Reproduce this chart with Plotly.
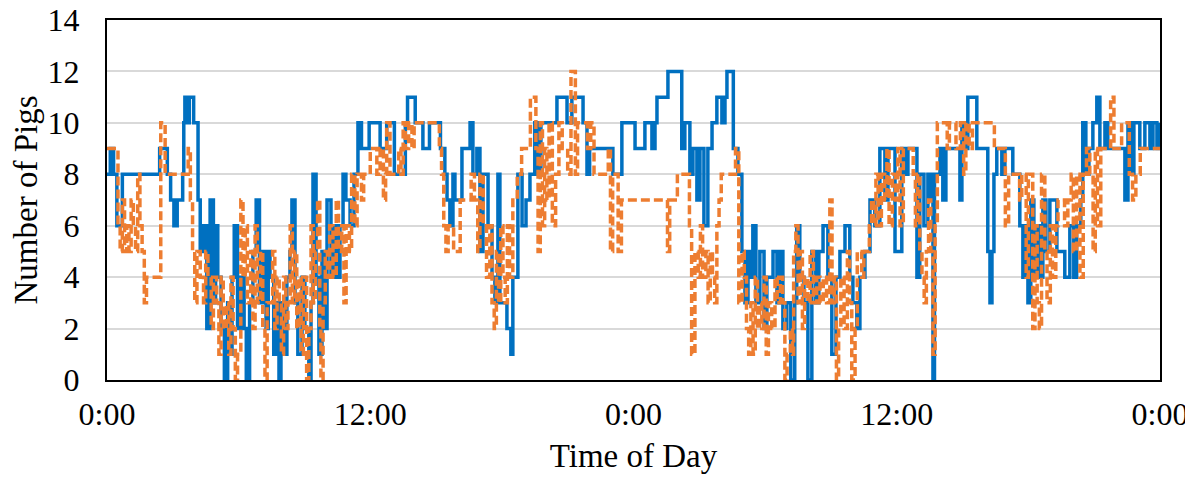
import plotly.graph_objects as go

# Time of day in hours since the first midnight, and number of pigs (step series)
blue_hours = [0.00, 0.15, 0.30, 0.45, 0.70, 2.40, 2.75, 2.90, 3.05, 3.20, 3.45, 3.50, 3.55, 3.68, 3.75, 3.95,
              4.15, 4.25, 4.40, 4.55, 4.70, 4.85, 4.95, 5.05, 5.20, 5.35, 5.50, 5.60, 5.70, 5.80, 5.95,
              6.10, 6.25, 6.35, 6.50, 6.65, 6.80, 6.95, 7.10, 7.25, 7.35, 7.43, 7.60, 7.75, 7.84, 7.93,
              8.07, 8.20, 8.34, 8.43, 8.57, 8.70, 8.89, 9.02, 9.20, 9.30, 9.39, 9.53, 9.66, 9.80, 9.94,
              10.03, 10.21, 10.35, 10.48, 10.62, 10.76, 10.89, 11.08, 11.26, 11.44, 11.60, 11.95, 12.45,
              12.75, 13.10, 13.60, 13.70, 14.05, 14.40, 14.70, 15.20, 15.40, 15.50, 15.63, 15.77, 15.86,
              16.18, 16.55, 16.68, 16.86, 17.00, 17.14, 17.37, 17.55, 17.68, 17.82, 17.91, 18.23, 18.41,
              18.50, 18.73, 18.92, 19.10, 19.28, 19.50, 19.65, 19.78, 20.51, 20.97, 21.19, 21.70, 21.88,
              22.00, 23.06, 23.47, 24.07, 24.52, 24.84, 24.98, 25.07, 25.57, 26.20, 26.34, 26.57, 26.71,
              26.89, 27.03, 27.21, 27.39, 27.58, 27.80, 28.03, 28.17, 28.26, 28.55, 28.76, 28.94, 29.08,
              29.22, 29.35, 29.44, 29.58, 29.76, 29.95, 30.08, 30.36, 30.54, 30.67, 30.81, 30.99, 31.17,
              31.35, 31.44, 31.58, 31.77, 31.95, 32.13, 32.31, 32.45, 32.64, 32.86, 33.04, 33.23, 33.41,
              33.64, 33.86, 34.00, 34.18, 34.32, 34.55, 34.78, 35.00, 35.23, 35.46, 35.60, 35.92, 36.23,
              36.37, 36.51, 36.92, 37.05, 37.24, 37.42, 37.56, 37.65, 37.72, 37.97, 38.10, 38.24, 38.88,
              38.97, 39.10, 39.24, 39.65, 40.15, 40.25, 40.34, 40.43, 40.56, 40.79, 40.93, 41.29, 41.61,
              41.75, 41.89, 41.98, 42.11, 42.25, 42.39, 42.52, 42.66, 42.80, 42.98, 43.30, 43.66, 43.89,
              44.07, 44.20, 44.39, 44.48, 44.62, 44.76, 44.94, 45.12, 45.26, 45.49, 45.62, 46.40, 46.54,
              46.67, 46.81, 47.08, 47.31, 47.54, 47.68, 47.86, 48.00]
blue_pigs = [8, 9, 8, 6, 8, 9, 8, 7, 6, 7, 8, 10, 11, 10, 11, 10,
             7, 5, 6, 2, 7, 3, 6, 4, 2, 0, 3, 1, 4, 6, 2,
             4, 2, 0, 3, 5, 7, 3, 5, 2, 5, 4, 1, 3, 0, 3,
             1, 4, 5, 7, 3, 1, 4, 2, 0, 3, 8, 4, 1, 5, 2,
             7, 4, 6, 4, 6, 8, 7, 6, 8, 10, 9, 10, 9,
             10, 8, 10, 11, 10, 9, 10, 9, 8, 7, 6, 8, 7,
             9, 10, 8, 9, 5, 8, 6, 4, 3, 8, 3, 2, 1,
             4, 8, 6, 7, 8, 10, 8, 10, 11, 10, 11, 10, 8,
             9, 8, 10, 9, 10, 9, 10, 11, 12, 9, 10, 8, 9,
             7, 9, 6, 9, 10, 11, 10, 11, 12, 9, 8, 5, 3,
             5, 4, 6, 3, 5, 2, 4, 5, 3, 5, 2, 3, 0,
             3, 6, 4, 3, 0, 5, 3, 5, 6, 4, 1, 4, 5,
             6, 4, 3, 2, 4, 5, 7, 6, 9, 7, 9, 5, 9,
             8, 9, 4, 8, 6, 8, 7, 0, 8, 9, 7, 9, 7,
             10, 9, 11, 9, 5, 3, 5, 8, 9, 8, 9, 8, 6,
             4, 6, 3, 7, 4, 6, 4, 7, 5, 7, 5, 4, 6,
             4, 6, 7, 10, 8, 9, 10, 11, 9, 10, 9, 7, 10,
             8, 10, 9, 10, 9, 10, 9, 10]

orange_hours = [0.00, 0.50, 0.60, 0.70, 0.80, 0.90, 1.00, 1.10, 1.20, 1.30, 1.40, 1.50, 1.60, 1.70, 1.80,
                2.45, 2.65, 3.70, 3.80, 3.90, 4.00, 4.10, 4.25, 4.40, 4.50, 4.60, 4.75, 4.85, 5.00, 5.10,
                5.20, 5.30, 5.45, 5.55, 5.65, 5.75, 5.85, 5.95, 6.10, 6.20, 6.30, 6.40, 6.55, 6.65, 6.75,
                6.85, 7.00, 7.10, 7.20, 7.30, 7.45, 7.55, 7.65, 7.75, 7.85, 7.95, 8.05, 8.15, 8.25, 8.35,
                8.45, 8.55, 8.65, 8.75, 8.85, 8.95, 9.10, 9.20, 9.30, 9.40, 9.50, 9.60, 9.70, 9.75, 9.85,
                9.95, 10.05, 10.15, 10.30, 10.45, 10.55, 10.70, 10.80, 10.90, 11.05, 11.15, 11.30, 11.40,
                11.60, 11.70, 12.00, 12.30, 12.45, 12.60, 12.70, 12.75, 12.90, 13.30, 13.40, 13.50, 13.60,
                13.75, 13.90, 14.00, 15.15, 15.25, 15.35, 15.45, 15.55, 15.80, 16.10, 16.60, 16.75, 16.90,
                17.00, 17.15, 17.30, 17.45, 17.55, 17.65, 17.75, 17.85, 17.95, 18.05, 18.15, 18.25, 18.35,
                18.50, 18.70, 18.90, 19.30, 19.55, 19.65, 19.75, 19.85, 19.95, 20.05, 20.15, 20.30, 20.45,
                20.60, 20.75, 21.00, 21.15, 21.35, 21.45, 21.90, 22.05, 22.20, 22.85, 22.95, 23.05, 23.30,
                23.45, 25.55, 25.65, 26.00, 26.55, 26.65, 26.80, 26.95, 27.05, 27.15, 27.30, 27.40, 27.50,
                27.60, 27.70, 27.80, 27.90, 28.00, 28.65, 28.80, 28.95, 29.05, 29.15, 29.25, 29.35, 29.45,
                29.55, 29.65, 29.75, 29.85, 29.95, 30.05, 30.15, 30.30, 30.45, 30.55, 30.70, 30.80, 30.90,
                31.00, 31.15, 31.25, 31.30, 31.40, 31.50, 31.60, 31.70, 31.80, 31.95, 32.05, 32.20, 32.35,
                32.50, 32.65, 32.80, 32.95, 33.05, 33.15, 33.25, 33.35, 33.45, 33.60, 33.75, 33.85, 33.95,
                34.10, 34.20, 34.40, 34.50, 34.75, 34.85, 34.95, 35.05, 35.15, 35.30, 35.45, 35.55, 35.65,
                35.80, 35.95, 36.05, 36.15, 36.30, 36.75, 36.85, 36.95, 37.05, 37.15, 37.25, 37.35, 37.45,
                37.55, 37.65, 37.75, 37.85, 38.30, 38.40, 38.70, 38.90, 39.05, 39.15, 39.30, 39.45, 40.45,
                40.95, 41.10, 41.60, 41.70, 41.90, 42.00, 42.20, 42.30, 42.40, 42.50, 42.60, 42.75, 42.85,
                43.00, 43.10, 43.25, 43.35, 43.65, 43.80, 43.95, 44.05, 44.20, 44.35, 44.50, 44.65, 44.80,
                44.95, 45.05, 45.15, 45.30, 45.75, 45.90, 46.25, 46.60, 46.75, 46.90, 47.10, 48.00]
orange_pigs = [9, 6, 5, 7, 5, 6, 5, 7, 6, 5, 8, 6, 5, 3, 4,
               10, 8, 9, 7, 5, 3, 5, 4, 3, 5, 4, 2, 4, 3, 1,
               4, 2, 3, 1, 4, 2, 0, 1, 7, 4, 6, 3, 5, 2, 6,
               3, 5, 2, 0, 3, 3, 5, 2, 4, 3, 1, 4, 2, 3, 6,
               3, 5, 2, 4, 1, 4, 0, 2, 6, 3, 5, 7, 2, 0, 3,
               5, 4, 6, 4, 7, 5, 6, 3, 6, 5, 8, 6, 8,
               7, 8, 9, 8, 9, 7, 8, 10, 8, 9, 8, 10, 9,
               10, 9, 10, 9, 8, 6, 5, 6, 5, 7, 8, 7, 5,
               8, 6, 4, 6, 3, 2, 5, 3, 6, 4, 3, 6, 4,
               7, 8, 9, 11, 9, 5, 10, 6, 9, 7, 10, 6, 8,
               10, 9, 8, 12, 8, 10, 9, 10, 8, 9, 5, 8, 5,
               7, 5, 7, 8, 6, 1, 5, 4, 6, 4, 5, 3, 5,
               4, 3, 6, 7, 8, 9, 3, 5, 4, 2, 1, 3, 1,
               4, 2, 3, 2, 4, 1, 3, 2, 4, 3, 4, 3, 0,
               1, 2, 1, 5, 6, 3, 5, 2, 4, 3, 5, 3, 4,
               3, 4, 3, 7, 3, 4, 0, 2, 4, 2, 5, 3, 0,
               2, 5, 4, 5, 6, 7, 6, 8, 6, 8, 7, 9, 6,
               8, 7, 9, 6, 9, 8, 6, 8, 5, 4, 3, 5, 7,
               5, 1, 6, 10, 9, 10, 9, 10, 8, 10, 9, 10, 9,
               6, 8, 7, 8, 4, 8, 2, 6, 3, 2, 8, 5, 3,
               6, 4, 6, 7, 6, 7, 8, 5, 8, 4, 8, 9, 8,
               5, 9, 6, 9, 11, 9, 10, 8, 7, 8, 9, 9]

tick_hours = [0, 12, 24, 36, 48]
tick_labels = ["0:00", "12:00", "0:00", "12:00", "0:00"]

FONT = "Liberation Serif, Times New Roman, serif"
TICK_FS = 32
TITLE_FS = 33

fig = go.Figure()
fig.add_trace(go.Scatter(
    x=blue_hours, y=blue_pigs, mode="lines", line_shape="hv",
    line=dict(color="#0070C0", width=3.5), showlegend=False, name="Series 1"))
fig.add_trace(go.Scatter(
    x=orange_hours, y=orange_pigs, mode="lines", line_shape="hv",
    line=dict(color="#ED7D31", width=3.5, dash="9px,4px"), showlegend=False, name="Series 2"))

# the page body adds an 8px offset, so the figure is sized/margined to compensate
fig.update_layout(
    width=1185, height=472,
    margin=dict(l=99, r=33, t=12, b=100),
    paper_bgcolor="white", plot_bgcolor="white",
    font=dict(family=FONT, size=TICK_FS, color="black"),
)
fig.update_xaxes(
    range=[0, 48], tickmode="array", tickvals=tick_hours, ticktext=tick_labels,
    showgrid=False, zeroline=False, automargin=False,
    showline=True, mirror=True, linecolor="black", linewidth=2,
    ticks="", ticklabelstandoff=5, ticklabeloverflow="allow",
    tickfont=dict(family=FONT, size=TICK_FS),
    title=dict(text="Time of Day", font=dict(family=FONT, size=TITLE_FS), standoff=12),
)
fig.update_yaxes(
    range=[0, 14], dtick=2, tick0=0, automargin=False,
    showgrid=True, gridcolor="#D9D9D9", gridwidth=1.5, zeroline=False,
    showline=True, mirror=True, linecolor="black", linewidth=2,
    ticks="", ticklabelstandoff=19, ticklabeloverflow="allow",
    tickfont=dict(family=FONT, size=TICK_FS),
    title=dict(text="Number of Pigs", font=dict(family=FONT, size=TITLE_FS), standoff=16),
)

fig.write_html("out.html")
